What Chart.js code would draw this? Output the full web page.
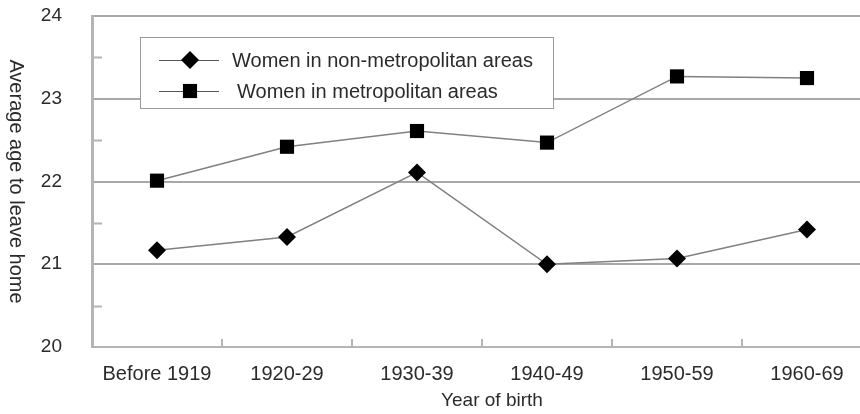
<!DOCTYPE html>
<html>
<head>
<meta charset="utf-8">
<title>Average age to leave home</title>
<script src="https://cdn.jsdelivr.net/npm/chart.js@4/dist/chart.umd.min.js"></script>
<style>
  html, body { margin: 0; padding: 0; background: #fff; overflow: hidden; }
  #wrap { width: 860px; height: 414px; overflow: hidden; position: relative; }
  #chart { display: block; }
</style>
</head>
<body>
<div id="wrap"><canvas id="chart" width="880" height="414"></canvas></div>
<script>
// Birth cohorts along the x axis
const categories = ['Before 1919', '1920-29', '1930-39', '1940-49', '1950-59', '1960-69'];

// Average age at leaving the parental home
const nonMetroAges = [21.17, 21.33, 22.11, 21.0, 21.07, 21.42];
const metroAges = [22.01, 22.42, 22.61, 22.47, 23.27, 23.25];

const seriesNames = ['Women in non-metropolitan areas', 'Women in metropolitan areas'];

// Value axis
const yMin = 20;
const yMax = 24;
const yStep = 1;

const xTitle = 'Year of birth';
const yTitle = 'Average age to leave home';

const FONT = '"Liberation Sans", Arial, Helvetica, sans-serif';
const TEXT = '#2b2b2b';
const GRID = '#a8a8a8';
const AXIS = '#b4b4b4';
const SERIES_LINE = '#808080';

function drawMarker(ctx, style, cx, cy, r) {
  ctx.beginPath();
  if (style === 'rectRot') {
    ctx.moveTo(cx, cy - r);
    ctx.lineTo(cx + r, cy);
    ctx.lineTo(cx, cy + r);
    ctx.lineTo(cx - r, cy);
    ctx.closePath();
  } else {
    const s = r * Math.SQRT1_2;
    ctx.rect(cx - s, cy - s, 2 * s, 2 * s);
  }
  ctx.fillStyle = '#000';
  ctx.fill();
}

const decor = {
  id: 'decor',
  beforeDatasetsDraw(chart) {
    const { ctx, scales: { x, y } } = chart;
    ctx.save();
    ctx.strokeStyle = AXIS;
    ctx.lineWidth = 2;
    ctx.beginPath();
    // short inner ticks at the half units of the value axis
    for (let v = yMin + yStep / 2; v < yMax; v += yStep) {
      const py = Math.round(y.getPixelForValue(v)) + 0.5;
      ctx.moveTo(x.left, py);
      ctx.lineTo(x.left + 10, py);
    }
    // short inner ticks between the cohorts
    for (let i = 1; i < categories.length; i++) {
      const px = Math.round((x.getPixelForValue(i - 1) + x.getPixelForValue(i)) / 2);
      ctx.moveTo(px, y.bottom);
      ctx.lineTo(px, y.bottom - 8);
    }
    ctx.stroke();
    ctx.restore();
  },
  afterDatasetsDraw(chart) {
    const { ctx } = chart;
    ctx.save();
    // legend box
    const bx = 140, by = 37, bw = 413, bh = 71;
    ctx.fillStyle = '#fff';
    ctx.fillRect(bx, by, bw, bh);
    ctx.strokeStyle = '#9a9a9a';
    ctx.lineWidth = 1;
    ctx.strokeRect(bx + 0.5, by + 0.5, bw, bh);
    const rows = [60, 91];
    chart.data.datasets.forEach((ds, i) => {
      const cy = rows[i];
      ctx.strokeStyle = '#555';
      ctx.lineWidth = 1;
      ctx.beginPath();
      ctx.moveTo(159, cy + 0.5);
      ctx.lineTo(219, cy + 0.5);
      ctx.stroke();
      drawMarker(ctx, ds.pointStyle, 190, cy, ds.pointRadius);
      ctx.fillStyle = TEXT;
      ctx.font = '20px ' + FONT;
      ctx.textBaseline = 'middle';
      ctx.textAlign = 'left';
      ctx.fillText(ds.label, i === 0 ? 232 : 237, cy + 1);
    });
    ctx.restore();
  },
  afterDraw(chart) {
    const { ctx, scales: { y } } = chart;
    ctx.save();
    ctx.fillStyle = TEXT;
    ctx.font = '19px ' + FONT;
    ctx.textAlign = 'center';
    ctx.textBaseline = 'middle';
    ctx.fillText(xTitle, 492, 401);
    // value axis title, read top to bottom
    ctx.translate(16, (y.top + y.bottom) / 2);
    ctx.rotate(Math.PI / 2);
    ctx.font = '20px ' + FONT;
    ctx.fillText(yTitle, 0, 0);
    ctx.restore();
  }
};

new Chart(document.getElementById('chart'), {
  type: 'line',
  data: {
    labels: categories,
    datasets: [
      {
        label: seriesNames[0],
        data: nonMetroAges,
        borderColor: SERIES_LINE,
        borderWidth: 1.5,
        pointStyle: 'rectRot',
        pointRadius: 9,
        pointBackgroundColor: '#000',
        pointBorderColor: '#000',
        pointBorderWidth: 0,
        tension: 0,
        fill: false
      },
      {
        label: seriesNames[1],
        data: metroAges,
        borderColor: SERIES_LINE,
        borderWidth: 1.5,
        pointStyle: 'rect',
        pointRadius: 10,
        pointBackgroundColor: '#000',
        pointBorderColor: '#000',
        pointBorderWidth: 0,
        tension: 0,
        fill: false
      }
    ]
  },
  options: {
    responsive: false,
    animation: false,
    layout: { autoPadding: false, padding: { top: 16, right: 8, left: 0, bottom: 0 } },
    plugins: {
      legend: { display: false },
      tooltip: { enabled: false },
      title: { display: false }
    },
    scales: {
      x: {
        type: 'category',
        offset: true,
        afterFit(scale) { scale.height = 67; },
        grid: { display: false, drawTicks: false },
        border: { display: true, color: AXIS, width: 2 },
        ticks: {
          color: TEXT,
          font: { family: FONT, size: 20 },
          padding: 15,
          maxRotation: 0,
          autoSkip: false
        }
      },
      y: {
        min: yMin,
        max: yMax,
        afterFit(scale) {
          scale.width = 92;
          scale.paddingTop = 0;
          scale.paddingBottom = 0;
        },
        grid: {
          drawTicks: false,
          color: GRID,
          lineWidth: 2
        },
        border: { display: true, color: AXIS, width: 3 },
        ticks: {
          stepSize: yStep,
          color: TEXT,
          font: { family: FONT, size: 19 },
          padding: 30
        }
      }
    }
  },
  plugins: [decor]
});
</script>
</body>
</html>
